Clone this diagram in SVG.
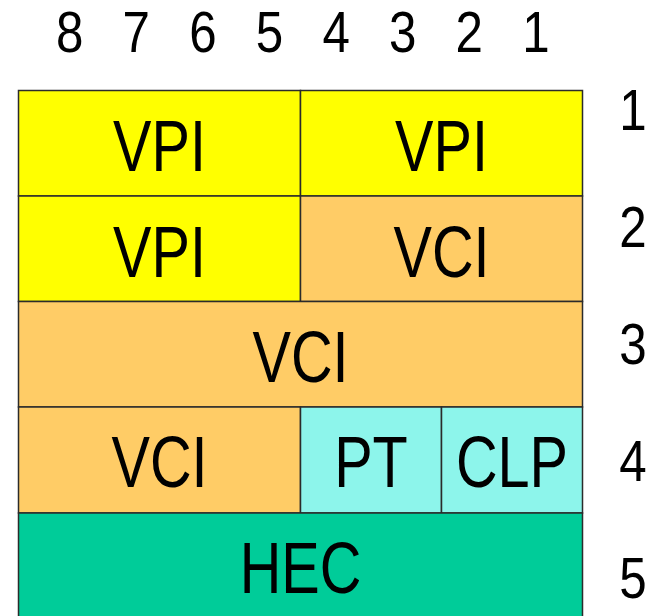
<svg xmlns="http://www.w3.org/2000/svg" width="655" height="616" viewBox="0 0 655 616">
<style>
.cell{stroke:#2b2b2b;stroke-width:1.5}
.y{fill:#FFFF00}
.o{fill:#FFCC66}
.c{fill:#8DF5EB}
.g{fill:#00CC99}
.lbl{font-family:"Liberation Sans",Arial,sans-serif;font-size:72px;fill:#000;text-anchor:middle}
.num{font-family:"Liberation Sans",Arial,sans-serif;font-size:58px;fill:#000;text-anchor:middle}
</style>
<rect width="655" height="616" fill="#fff"/>
<g id="bit-numbers">
<g transform="translate(69.7,52) scale(0.85,1)"><text class="num">8</text></g>
<g transform="translate(136.3,52) scale(0.85,1)"><text class="num">7</text></g>
<g transform="translate(202.9,52) scale(0.85,1)"><text class="num">6</text></g>
<g transform="translate(269.5,52) scale(0.85,1)"><text class="num">5</text></g>
<g transform="translate(336.1,52) scale(0.85,1)"><text class="num">4</text></g>
<g transform="translate(402.7,52) scale(0.85,1)"><text class="num">3</text></g>
<g transform="translate(469.3,52) scale(0.85,1)"><text class="num">2</text></g>
<g transform="translate(535.9,52) scale(0.85,1)"><text class="num">1</text></g>
</g>
<g id="byte-numbers">
<g transform="translate(633,130) scale(0.85,1)"><text class="num">1</text></g>
<g transform="translate(633,247) scale(0.85,1)"><text class="num">2</text></g>
<g transform="translate(633,364) scale(0.85,1)"><text class="num">3</text></g>
<g transform="translate(633,481) scale(0.85,1)"><text class="num">4</text></g>
<g transform="translate(633,598) scale(0.85,1)"><text class="num">5</text></g>
</g>
<g id="vpi-1a"><rect class="cell y" x="18.5" y="90.5" width="282" height="105.5"/><g transform="translate(159.5,171) scale(0.8,1)"><text class="lbl">VPI</text></g></g>
<g id="vpi-1b"><rect class="cell y" x="300.5" y="90.5" width="282" height="105.5"/><g transform="translate(441.5,171) scale(0.8,1)"><text class="lbl">VPI</text></g></g>
<g id="vpi-2"><rect class="cell y" x="18.5" y="196" width="282" height="105.5"/><g transform="translate(159.5,276.5) scale(0.8,1)"><text class="lbl">VPI</text></g></g>
<g id="vci-2"><rect class="cell o" x="300.5" y="196" width="282" height="105.5"/><g transform="translate(441.5,276.5) scale(0.8,1)"><text class="lbl">VCI</text></g></g>
<g id="vci-3"><rect class="cell o" x="18.5" y="301.5" width="564" height="105.5"/><g transform="translate(300.5,382) scale(0.8,1)"><text class="lbl">VCI</text></g></g>
<g id="vci-4"><rect class="cell o" x="18.5" y="407" width="282" height="106"/><g transform="translate(159.5,487) scale(0.8,1)"><text class="lbl">VCI</text></g></g>
<g id="pt"><rect class="cell c" x="300.5" y="407" width="141" height="106"/><g transform="translate(371,487) scale(0.8,1)"><text class="lbl">PT</text></g></g>
<g id="clp"><rect class="cell c" x="441.5" y="407" width="141" height="106"/><g transform="translate(512,487) scale(0.8,1)"><text class="lbl">CLP</text></g></g>
<g id="hec"><rect class="cell g" x="18.5" y="513" width="564" height="110"/><g transform="translate(300.5,593) scale(0.8,1)"><text class="lbl">HEC</text></g></g>
</svg>
